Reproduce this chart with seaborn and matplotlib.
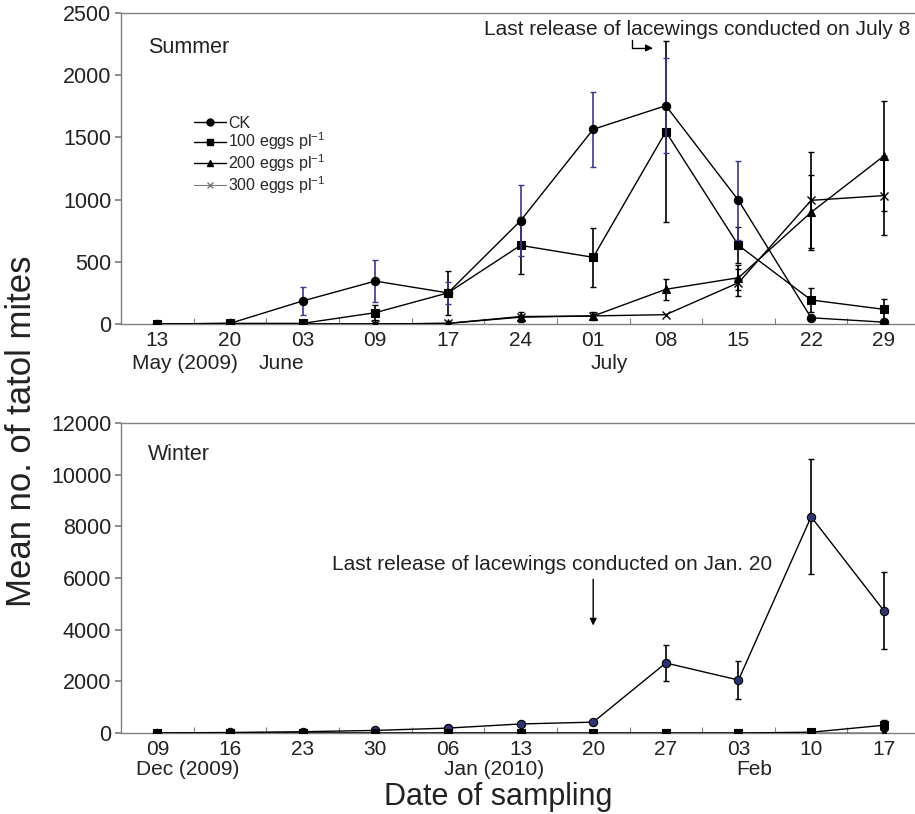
import numpy as np
import pandas as pd
import matplotlib
matplotlib.use("Agg")
import matplotlib.pyplot as plt
import seaborn as sns
from matplotlib.lines import Line2D
from matplotlib.ticker import FixedLocator
import matplotlib.transforms as mtransforms

# ---------------- data ----------------
summer_dates = ["13", "20", "03", "09", "17", "24", "01", "08", "15", "22", "29"]
summer_ck = [0, 5, 185, 345, 250, 830, 1565, 1755, 994, 50, 15]
summer_ck_err = [0, 0, 110, 170, 90, 285, 300, 380, 315, 0, 0]
summer_100 = [0, 5, 5, 91, 250, 632, 536, 1546, 632, 193, 118]
summer_100_err = [0, 0, 0, 60, 180, 230, 235, 730, 145, 95, 80]
summer_200 = [0, 0, 0, 0, 5, 60, 64, 279, 372, 898, 1350]
summer_200_err = [0, 0, 0, 0, 0, 40, 30, 85, 100, 300, 443]
summer_300 = [0, 0, 0, 0, 5, 55, 65, 75, 332, 994, 1032]
summer_300_err = [0, 0, 0, 0, 0, 0, 0, 0, 110, 385, 317]
summer_months = ["May (2009)", "June", "July"]

winter_dates = ["09", "16", "23", "30", "06", "13", "20", "27", "03", "10", "17"]
winter_ck = [0, 20, 50, 100, 190, 350, 420, 2710, 2050, 8370, 4740]
winter_ck_err = [0, 0, 0, 0, 100, 0, 0, 690, 750, 2230, 1490]
winter_100 = [0, 0, 0, 0, 0, 0, 0, 0, 0, 30, 300]
winter_100_err = [0, 0, 0, 0, 0, 0, 0, 0, 0, 0, 200]
winter_200 = [0, 0, 0, 0, 0, 0, 0, 0, 0, 0, 0]
winter_300 = [0, 0, 0, 0, 0, 0, 0, 0, 0, 0, 0]
winter_months = ["Dec (2009)", "Jan (2010)", "Feb"]

series_labels = ["CK", "100 eggs pl$^{-1}$", "200 eggs pl$^{-1}$", "300 eggs pl$^{-1}$"]

# ---------------- style ----------------
sns.set_theme(style="white")
plt.rcParams['font.family'] = ['Liberation Sans', 'DejaVu Sans']
plt.rcParams['mathtext.fontset'] = 'custom'
plt.rcParams['mathtext.rm'] = 'Liberation Sans'
plt.rcParams['mathtext.it'] = 'Liberation Sans'

GREY = "#808080"
NAVY = "#3a3a8a"
NAVY_FILL = "#2e3470"
TXT = "#222222"

W, H = 915, 814
fig = plt.figure(figsize=(W / 100, H / 100), dpi=100)

def px_axes(l, t, r, b):
    return fig.add_axes([l / W, 1 - b / H, (r - l) / W, (b - t) / H])

ax1 = px_axes(121, 13, 915, 324)
ax2 = px_axes(121, 423, 915, 733)

def style_axes(ax, ymax, ystep, labels):
    n = len(labels)
    ax.set_xlim(-0.5, 10.43)
    ax.set_ylim(0, ymax)
    for s in ["left", "top", "bottom"]:
        ax.spines[s].set_color(GREY)
        ax.spines[s].set_linewidth(1.0)
        ax.spines[s].set_visible(True)
    ax.spines["right"].set_visible(False)
    ax.set_yticks(np.arange(0, ymax + 1, ystep))
    ax.tick_params(axis="y", which="major", left=True, direction="out", length=4,
                   color=GREY, labelsize=15.5, pad=3, labelcolor=TXT)
    ax.set_xticks(range(n))
    ax.set_xticklabels(labels)
    ax.tick_params(axis="x", which="major", bottom=True, length=0, labelsize=15,
                   pad=5, labelcolor=TXT)
    ax.xaxis.set_minor_locator(FixedLocator(np.arange(n - 1) + 0.5))
    ax.tick_params(axis="x", which="minor", bottom=True, direction="in", length=4,
                   color=GREY, width=0.8)
    ax.set_xlabel("")
    ax.set_ylabel("")
    ax.grid(False)

def draw_series(ax, y, err, marker, mfc, ecolor, ms, zorder, mew=0.8):
    x = np.arange(len(y))
    sns.lineplot(x=x, y=y, ax=ax, color="black", linewidth=1.0, marker=marker,
                 markersize=ms, markerfacecolor=mfc, markeredgecolor="black",
                 markeredgewidth=mew, zorder=zorder, legend=False)
    if err is not None:
        e = np.array(err, dtype=float)
        m = e > 0
        ax.errorbar(x[m], np.array(y, dtype=float)[m], yerr=e[m], fmt="none",
                    ecolor=ecolor, elinewidth=1.2, capsize=2.5, capthick=1.0,
                    zorder=zorder - 0.5)

# ---------------- top panel ----------------
draw_series(ax1, summer_300, summer_300_err, "x", "black", "black", 6, 3, mew=1.0)
draw_series(ax1, summer_200, summer_200_err, "^", "black", "black", 6, 4)
draw_series(ax1, summer_100, summer_100_err, "s", "black", "black", 6, 5)
draw_series(ax1, summer_ck, summer_ck_err, "o", "black", NAVY, 6, 6)
style_axes(ax1, 2500, 500, summer_dates)

# ---------------- bottom panel ----------------
draw_series(ax2, winter_300, None, "x", "black", "black", 6, 3, mew=1.0)
draw_series(ax2, winter_200, None, "^", "black", "black", 6, 4)
draw_series(ax2, winter_ck, winter_ck_err, "o", NAVY_FILL, "black", 6, 5)
draw_series(ax2, winter_100, winter_100_err, "s", "black", "black", 6, 6)
style_axes(ax2, 12000, 2000, winter_dates)

# month labels (second line under the dates)
tr1 = mtransforms.blended_transform_factory(ax1.transData, ax1.transAxes)
for xpos, lab in zip([0.385, 1.71, 6.22], summer_months):
    ax1.text(xpos, -0.128, lab, transform=tr1, ha="center", va="center",
             fontsize=15, color=TXT)
tr2 = mtransforms.blended_transform_factory(ax2.transData, ax2.transAxes)
for xpos, lab in zip([0.42, 4.64, 8.21], winter_months):
    ax2.text(xpos, -0.118, lab, transform=tr2, ha="center", va="center",
             fontsize=15, color=TXT)

# panel titles
ax1.text(0.034, 0.89, "Summer", transform=ax1.transAxes, fontsize=15.5,
         ha="left", va="center", color=TXT)
ax2.text(0.034, 0.9, "Winter", transform=ax2.transAxes, fontsize=15.5,
         ha="left", va="center", color=TXT)

# annotations
ax1.text(7.43, 2370, "Last release of lacewings conducted on July 8", fontsize=15,
         ha="center", va="center", color=TXT)
ax1.annotate("", xy=(6.82, 2219), xytext=(6.53, 2280),
             arrowprops=dict(arrowstyle="-|>", color="black", lw=1.0,
                             connectionstyle="angle,angleA=90,angleB=0,rad=0",
                             shrinkA=0, shrinkB=0, mutation_scale=10))
ax2.text(5.44, 6530, "Last release of lacewings conducted on Jan. 20", fontsize=15,
         ha="center", va="center", color=TXT)
ax2.annotate("", xy=(6.0, 4160), xytext=(6.0, 5950),
             arrowprops=dict(arrowstyle="-|>", color="black", lw=1.0,
                             shrinkA=0, shrinkB=0, mutation_scale=10))

# legend
handles = [
    Line2D([], [], color="black", lw=1.0, marker="o", ms=5, mfc="black", mec="black"),
    Line2D([], [], color="black", lw=1.0, marker="s", ms=5, mfc="black", mec="black"),
    Line2D([], [], color="black", lw=1.0, marker="^", ms=5, mfc="black", mec="black"),
    Line2D([], [], color="#777777", lw=0.8, marker="x", ms=4, mfc="none", mec="#777777"),
]
ax1.legend(handles, series_labels, loc="upper left", bbox_to_anchor=(0.092, 0.67),
           frameon=False, fontsize=11.5, handlelength=2.0, handletextpad=0.15,
           labelspacing=0.0, borderpad=0, borderaxespad=0)

# axis labels
fig.text(22 / W, 1 - 431 / H, "Mean no. of tatol mites", rotation=90, fontsize=25,
         ha="center", va="center", color=TXT)
fig.text(498 / W, 1 - 797 / H, "Date of sampling", fontsize=22, ha="center",
         va="center", color=TXT)

fig.savefig("out.png", dpi=100)
